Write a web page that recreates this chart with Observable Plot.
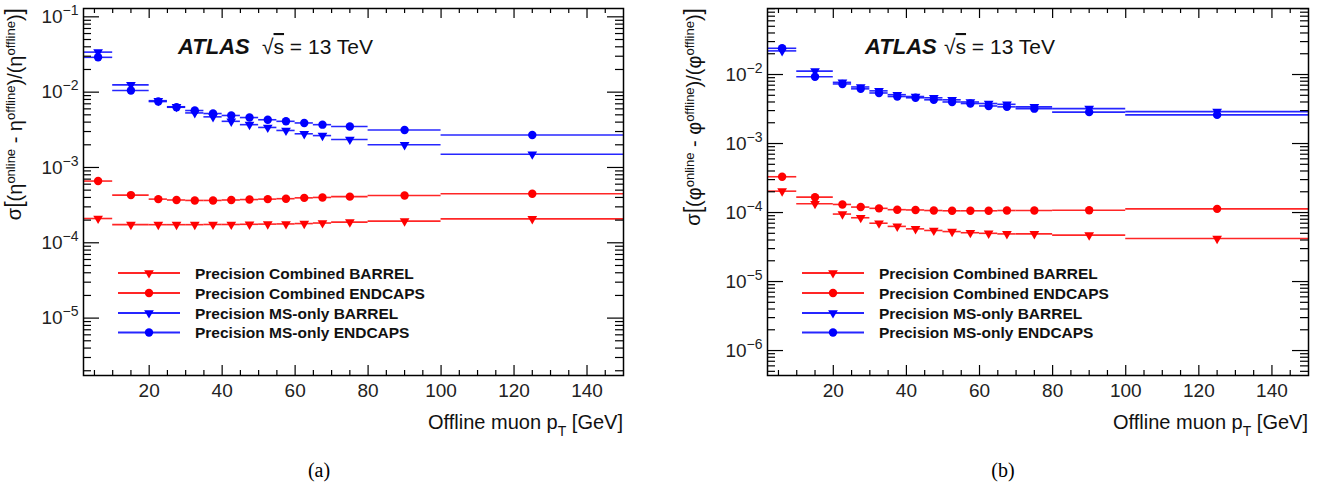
<!DOCTYPE html>
<html><head><meta charset="utf-8">
<script src="https://cdn.jsdelivr.net/npm/d3@7"></script>
<script src="https://cdn.jsdelivr.net/npm/@observablehq/plot@0.6"></script>
<style>
html,body{margin:0;padding:0;background:#fff;}
#wrap{position:relative;width:1318px;height:492px;overflow:hidden;background:#fff;}
.panel{position:absolute;top:0;}
.cap{position:absolute;top:459px;font-family:"Liberation Serif","Times New Roman",serif;font-size:20px;transform:translateX(-50%);color:#000;}
</style></head><body><div id="wrap"></div>
<script>
// ---- data ----
const binLo    = [2, 10, 20, 25, 30, 35, 40, 45, 50, 55, 60, 65, 70, 80, 100];
const binHi    = [10, 20, 25, 30, 35, 40, 45, 50, 55, 60, 65, 70, 80, 100, 150];
const ptCenter = [6, 15, 22.5, 27.5, 32.5, 37.5, 42.5, 47.5, 52.5, 57.5, 62.5, 67.5, 75, 90, 125];

const seriesNames = ["Precision Combined BARREL", "Precision Combined ENDCAPS", "Precision MS-only BARREL", "Precision MS-only ENDCAPS"];
const seriesColors = ["#ff0000", "#ff0000", "#0000ff", "#0000ff"];
const seriesSymbols = ["triangle", "circle", "triangle", "circle"];

// (a) eta resolution
const etaCombBarrel  = [2.1e-4, 1.74e-4, 1.74e-4, 1.74e-4, 1.74e-4, 1.75e-4, 1.75e-4, 1.76e-4, 1.77e-4, 1.78e-4, 1.80e-4, 1.83e-4, 1.88e-4, 1.94e-4, 2.08e-4];
const etaCombEndcaps = [6.6e-4, 4.3e-4, 3.8e-4, 3.7e-4, 3.65e-4, 3.65e-4, 3.7e-4, 3.75e-4, 3.8e-4, 3.85e-4, 3.95e-4, 4.0e-4, 4.1e-4, 4.25e-4, 4.47e-4];
const etaMSBarrel    = [3.4e-2, 1.25e-2, 7.7e-3, 6.4e-3, 5.3e-3, 4.7e-3, 4.1e-3, 3.7e-3, 3.4e-3, 3.1e-3, 2.8e-3, 2.65e-3, 2.35e-3, 2.0e-3, 1.5e-3];
const etaMSEndcaps   = [2.9e-2, 1.05e-2, 7.5e-3, 6.3e-3, 5.7e-3, 5.2e-3, 4.9e-3, 4.6e-3, 4.3e-3, 4.1e-3, 3.9e-3, 3.7e-3, 3.5e-3, 3.15e-3, 2.7e-3];

// (b) phi resolution
const phiCombBarrel  = [2.04e-4, 1.34e-4, 9.5e-5, 8.4e-5, 7.0e-5, 6.3e-5, 5.8e-5, 5.5e-5, 5.3e-5, 5.1e-5, 5.0e-5, 4.9e-5, 4.9e-5, 4.7e-5, 4.2e-5];
const phiCombEndcaps = [3.3e-4, 1.67e-4, 1.31e-4, 1.2e-4, 1.15e-4, 1.1e-4, 1.09e-4, 1.07e-4, 1.06e-4, 1.06e-4, 1.06e-4, 1.07e-4, 1.07e-4, 1.08e-4, 1.13e-4];
const phiMSBarrel    = [2.2e-2, 1.12e-2, 7.7e-3, 6.6e-3, 5.8e-3, 5.1e-3, 4.8e-3, 4.6e-3, 4.3e-3, 4.0e-3, 3.8e-3, 3.7e-3, 3.4e-3, 3.2e-3, 2.9e-3];
const phiMSEndcaps   = [2.4e-2, 9.3e-3, 7.3e-3, 6.2e-3, 5.4e-3, 4.8e-3, 4.6e-3, 4.3e-3, 4.0e-3, 3.8e-3, 3.5e-3, 3.4e-3, 3.2e-3, 2.85e-3, 2.6e-3];

const xDomain = [2, 150];
const xMajorTicks = [20, 40, 60, 80, 100, 120, 140];
const xMinorTicks = [5, 10, 15, 25, 30, 35, 45, 50, 55, 65, 70, 75, 85, 90, 95, 105, 110, 115, 125, 130, 135, 145];
const etaYDomain = [1.73e-6, 0.129];
const phiYDomain = [4.35e-7, 0.0905];
const captions = ["(a)", "(b)"];

// ---- drawing ----
const FONT = "'Liberation Sans', Arial, Helvetica, sans-serif";
const W = 659, H = 492, MT = 8, MB = 117;

function makePanel({values, yDomain, marginLeft, marginRight, varSym, titleX, atlasX, sqrtX, legX0, legX1, legM, legT}) {
  const fw = W - marginLeft - marginRight, fh = H - MT - MB;
  const [y0, y1] = yDomain;
  const inY = v => v >= y0 && v <= y1;
  const decades = d3.range(-7, 1).map(e => Math.pow(10, e)).filter(inY);
  const minors = [];
  for (let e = -7; e <= -1; e++) for (let k = 2; k <= 9; k++) minors.push(k * Math.pow(10, e));
  const yMinor = minors.filter(inY);

  const seriesMarks = [];
  values.forEach((vals, s) => {
    const rows = vals.map((v, i) => ({x: ptCenter[i], lo: binLo[i], hi: binHi[i], v}));
    seriesMarks.push(Plot.ruleY(rows, {y: "v", x1: "lo", x2: "hi", stroke: seriesColors[s], strokeWidth: 1.6, strokeOpacity: 0.85}));
  });
  values.forEach((vals, s) => {
    const rows = vals.map((v, i) => ({x: ptCenter[i], v}));
    const tri = seriesSymbols[s] === "triangle";
    seriesMarks.push(Plot.dot(rows, {x: "x", y: "v", symbol: seriesSymbols[s], rotate: tri ? 180 : 0, r: tri ? 3.6 : 4.2, fill: seriesColors[s], stroke: "none"}));
  });

  const tk = {stroke: "black", strokeWidth: 1.2};
  const plot = Plot.plot({
    width: W, height: H, marginLeft, marginRight, marginTop: MT, marginBottom: MB,
    style: {fontFamily: FONT, background: "white", overflow: "visible"},
    x: {domain: xDomain},
    y: {type: "log", domain: yDomain},
    marks: [
      ...seriesMarks,
      Plot.tickX(xMajorTicks, {x: d => d, insetTop: fh - 10, ...tk}),
      Plot.tickX(xMajorTicks, {x: d => d, insetBottom: fh - 10, ...tk}),
      Plot.tickX(xMinorTicks, {x: d => d, insetTop: fh - 5, ...tk}),
      Plot.tickX(xMinorTicks, {x: d => d, insetBottom: fh - 5, ...tk}),
      Plot.tickY(decades, {y: d => d, insetRight: fw - 16, ...tk}),
      Plot.tickY(decades, {y: d => d, insetLeft: fw - 16, ...tk}),
      Plot.tickY(yMinor, {y: d => d, insetRight: fw - 8, ...tk}),
      Plot.tickY(yMinor, {y: d => d, insetLeft: fw - 8, ...tk}),
      Plot.frame({stroke: "black", strokeWidth: 1.5}),
      Plot.axisX(xMajorTicks, {tickSize: 0, tickPadding: 8, fontSize: 19, label: null, fill: "#222"}),
      Plot.axisY(decades, {tickSize: 0, tickPadding: 5, fontSize: 19, label: null, fill: "#222",
        tickFormat: d => "10|" + Math.round(Math.log10(d))})
    ]
  });

  const svg = d3.select(plot);
  // superscript tick labels
  svg.selectAll('g[aria-label="y-axis tick label"] text').each(function () {
    const parts = this.textContent.split("|");
    const t = d3.select(this);
    t.text(null);
    t.append("tspan").text(parts[0]);
    t.append("tspan").attr("dy", "-8").attr("font-size", "14px").text(parts[1].replace("-", "\u2212"));
  });

  const g = svg.append("g").attr("font-family", FONT).attr("fill", "#111").attr("text-anchor", "start");

  // x title
  const xt = g.append("text").attr("x", W - marginRight).attr("y", 429).attr("text-anchor", "end").attr("font-size", 20);
  xt.append("tspan").text("Offline muon p");
  xt.append("tspan").attr("dy", "7").attr("font-size", 14).text("T");
  xt.append("tspan").attr("dy", "-7").text(" [GeV]");

  // y title
  const yt = g.append("text").attr("transform", `translate(${titleX},8) rotate(-90)`).attr("text-anchor", "end").attr("font-size", 20);
  const sup = (txt) => { yt.append("tspan").attr("dy", "-7").attr("font-size", 13).text(txt); };
  const base = (txt, back) => { yt.append("tspan").attr("dy", back ? "7" : null).text(txt); };
  yt.append("tspan").text("\u03c3");
  yt.append("tspan").attr("font-size", 23).attr("dy", "1").text("[");
  base("(" + varSym, false); sup("online");
  base(" - " + varSym, true); sup("offline");
  base(")/(" + varSym, true); sup("offline");
  base(")", true);
  yt.append("tspan").attr("font-size", 23).text("]");

  // ATLAS label
  g.append("text").attr("x", atlasX).attr("y", 54).attr("font-size", 22).attr("font-weight", "bold").attr("font-style", "italic").text("ATLAS");
  const st = g.append("text").attr("x", sqrtX).attr("y", 54).attr("font-size", 21);
  st.append("tspan").text("\u221a");
  st.append("tspan").style("text-decoration", "overline").text("s");
  st.append("tspan").text(" = 13 TeV");

  // legend
  const rowsY = [273, 293, 313, 332.5];
  seriesNames.forEach((name, s) => {
    const yy = rowsY[s];
    g.append("line").attr("x1", legX0).attr("x2", legX1).attr("y1", yy).attr("y2", yy)
      .attr("stroke", seriesColors[s]).attr("stroke-width", 1.8).attr("stroke-opacity", 0.85);
    const tri = seriesSymbols[s] === "triangle";
    const sym = d3.symbol(tri ? d3.symbolTriangle : d3.symbolCircle, Math.PI * (tri ? 3.6 : 4.2) ** 2)();
    g.append("path").attr("d", sym).attr("transform", `translate(${legM},${yy}) rotate(${tri ? 180 : 0})`).attr("fill", seriesColors[s]);
    g.append("text").attr("x", legT).attr("y", yy + 5.5).attr("font-size", 15.5).attr("font-weight", "bold").text(name);
  });
  return plot;
}

const wrap = document.getElementById("wrap");
const pA = makePanel({values: [etaCombBarrel, etaCombEndcaps, etaMSBarrel, etaMSEndcaps], yDomain: etaYDomain,
  marginLeft: 83, marginRight: 36, varSym: "\u03b7", titleX: 21, atlasX: 178, sqrtX: 262, legX0: 118, legX1: 180, legM: 149, legT: 195});
const pB = makePanel({values: [phiCombBarrel, phiCombEndcaps, phiMSBarrel, phiMSEndcaps], yDomain: phiYDomain,
  marginLeft: 108, marginRight: 10, varSym: "\u03c6", titleX: 41, atlasX: 206, sqrtX: 285, legX0: 143, legX1: 205, legM: 174, legT: 220});
const dA = document.createElement("div"); dA.className = "panel"; dA.style.left = "0px"; dA.appendChild(pA); wrap.appendChild(dA);
const dB = document.createElement("div"); dB.className = "panel"; dB.style.left = "659px"; dB.appendChild(pB); wrap.appendChild(dB);
[[captions[0], 319], [captions[1], 1003]].forEach(([t, x]) => {
  const c = document.createElement("div"); c.className = "cap"; c.style.left = x + "px"; c.textContent = t; wrap.appendChild(c);
});
</script></body></html>
